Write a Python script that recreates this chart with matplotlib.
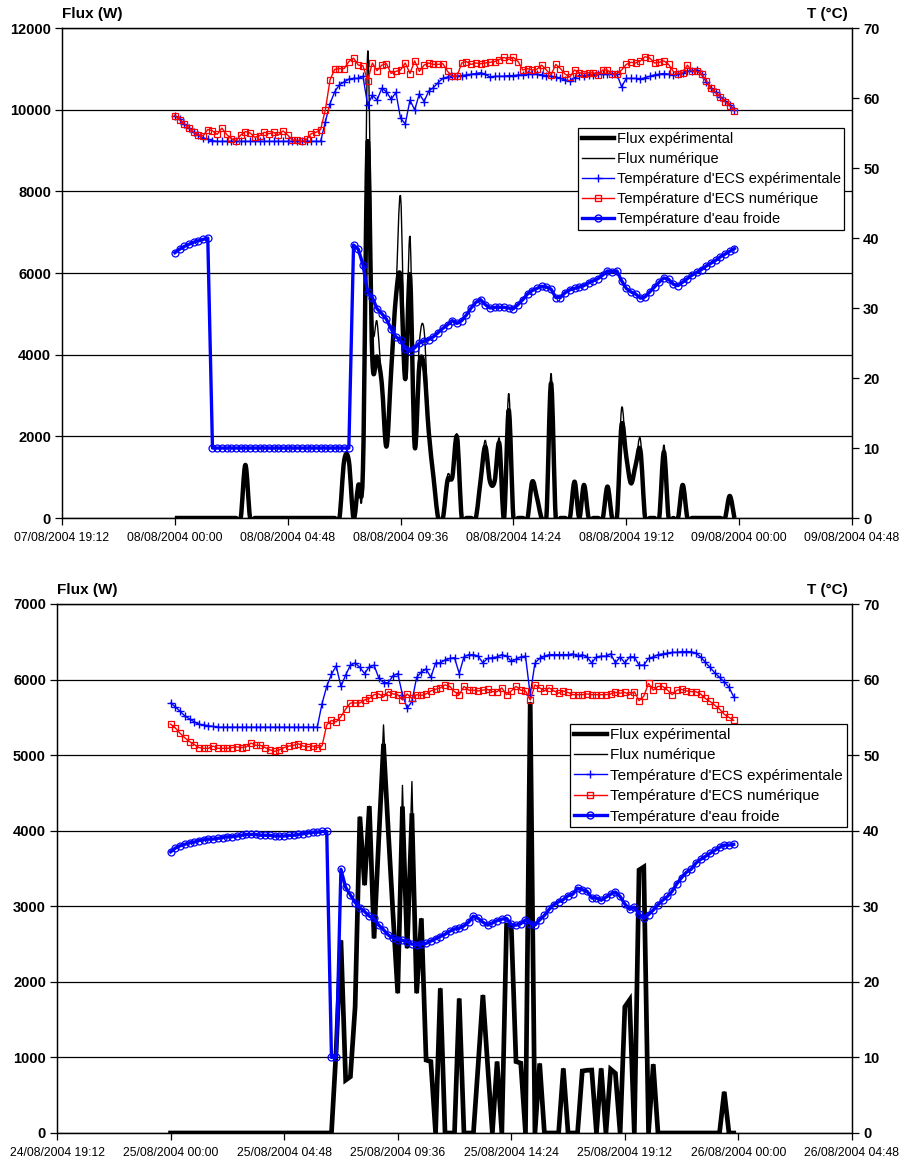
#!/usr/bin/env python3
"""
Flux and hot/cold water temperatures over two days (08/08 and 25/08/2004).
Top panel: smoothed flux curves, bottom panel: straight flux lines.
"""

from datetime import datetime, timedelta

import matplotlib
matplotlib.use("Agg")
import matplotlib.pyplot as plt
import matplotlib.dates as mdates
from matplotlib import font_manager
from matplotlib.lines import Line2D
from matplotlib.path import Path
from matplotlib.patches import PathPatch
import numpy as np

# ---------------------------------------------------------------------------
# Data (one value every 12 minutes, from 00:00 to 23:48)
# ---------------------------------------------------------------------------
STEP_MIN = 12
N_POINTS = 120

# --- 08/08/2004 ---
TOP_FLUX_EXP = [
    0, 0, 0, 0, 0, 0, 0, 0, 0, 0,
    0, 0, 0, 0, 0, 1300, 0, 0, 0, 0,
    0, 0, 0, 0, 0, 0, 0, 0, 0, 0,
    0, 0, 0, 0, 0, 0, 1400, 1400, 0, 800,
    1200, 9200, 3870, 3950, 3300, 1750, 3600, 5400, 5900, 3400,
    5950, 1750, 3750, 3700, 2100, 1000, 0, 0, 930, 1000,
    1990, 0, 0, 0, 0, 900, 1750, 900, 900, 1830,
    0, 2640, 0, 0, 0, 0, 890, 500, 0, 0,
    3300, 0, 0, 0, 0, 890, 0, 810, 0, 0,
    0, 0, 770, 0, 0, 2280, 1500, 850, 1300, 1660,
    0, 0, 0, 0, 1620, 0, 0, 0, 810, 0,
    0, 0, 0, 0, 0, 0, 0, 0, 540, 0,
]
TOP_FLUX_NUM = [
    0, 0, 0, 0, 0, 0, 0, 0, 0, 0,
    0, 0, 0, 0, 0, 1300, 0, 0, 0, 0,
    0, 0, 0, 0, 0, 0, 0, 0, 0, 0,
    0, 0, 0, 0, 0, 0, 1450, 1450, 0, 800,
    1200, 11400, 4900, 4800, 3300, 1750, 3700, 5500, 7870, 3600,
    6890, 1900, 4300, 4600, 2300, 1000, 0, 0, 1050, 1000,
    2050, 0, 0, 0, 0, 900, 1900, 900, 900, 1950,
    0, 3050, 0, 0, 0, 0, 890, 500, 0, 0,
    3540, 0, 0, 0, 0, 890, 0, 810, 0, 0,
    0, 0, 770, 0, 0, 2690, 1500, 850, 1300, 1930,
    0, 0, 0, 0, 1790, 0, 0, 0, 810, 0,
    0, 0, 0, 0, 0, 0, 0, 0, 540, 0,
]
TOP_T_ECS_EXP = [
    57.5, 57.0, 56.3, 55.7, 55.1, 54.7, 54.3, 54.1, 53.9, 53.8,
    53.8, 53.8, 53.8, 53.8, 53.8, 53.8, 53.8, 53.8, 53.8, 53.8,
    53.8, 53.8, 53.8, 53.8, 53.8, 53.8, 53.8, 53.8, 53.8, 53.8,
    53.8, 53.8, 56.6, 59.2, 60.9, 61.9, 62.3, 62.7, 62.8, 62.8,
    63.1, 59.0, 60.4, 59.7, 61.4, 60.9, 59.8, 60.8, 57.1, 56.3,
    59.7, 58.3, 60.6, 59.5, 61.0, 61.5, 62.2, 62.8, 63.0, 63.1,
    63.1, 63.2, 63.3, 63.4, 63.5, 63.6, 63.4, 63.0, 63.1, 63.1,
    63.1, 63.2, 63.2, 63.3, 63.3, 63.4, 63.5, 63.4, 63.3, 63.2,
    63.1, 63.0, 62.8, 62.6, 62.4, 62.9, 63.2, 63.2, 63.3, 63.3,
    63.4, 63.4, 63.5, 63.5, 63.4, 61.6, 62.8, 62.8, 62.8, 62.7,
    62.9, 63.1, 63.3, 63.4, 63.5, 63.4, 63.3, 63.4, 63.6, 63.8,
    63.9, 64.0, 63.4, 62.3, 61.4, 60.8, 60.2, 59.6, 59.0, 58.3,
]
TOP_T_ECS_NUM = [
    57.5, 56.9, 56.3, 55.7, 55.1, 54.7, 54.6, 55.5, 55.3, 54.8,
    55.7, 54.8, 54.2, 53.9, 54.7, 55.2, 55.0, 54.4, 54.6, 55.1,
    54.9, 55.1, 54.7, 55.3, 54.7, 54.0, 54.0, 53.8, 54.1, 54.9,
    55.1, 55.5, 58.3, 62.6, 64.1, 64.2, 64.2, 65.2, 65.7, 64.7,
    64.6, 62.5, 65.0, 63.9, 64.7, 64.9, 63.5, 63.8, 64.0, 65.0,
    63.5, 65.3, 63.8, 64.7, 65.0, 64.8, 64.8, 64.9, 63.8, 63.1,
    63.1, 65.0, 65.2, 64.8, 65.0, 64.9, 65.0, 65.1, 65.2, 65.5,
    65.8, 65.5, 65.8, 65.2, 64.0, 64.2, 64.0, 64.1, 64.7, 64.0,
    63.3, 64.8, 64.2, 63.4, 63.0, 64.0, 63.6, 63.5, 63.6, 63.6,
    63.3, 64.0, 64.0, 63.4, 63.5, 64.0, 64.8, 65.1, 65.0, 65.3,
    65.9, 65.7, 65.0, 65.1, 65.3, 64.8, 63.8, 63.5, 63.6, 64.7,
    63.8, 63.8, 63.5, 62.5, 61.4, 60.8, 60.1, 59.5, 58.9, 58.2,
]
TOP_T_COLD = [
    37.9, 38.4, 38.8, 39.1, 39.4, 39.6, 39.8, 40.0, 10.0, 10.0,
    10.0, 10.0, 10.0, 10.0, 10.0, 10.0, 10.0, 10.0, 10.0, 10.0,
    10.0, 10.0, 10.0, 10.0, 10.0, 10.0, 10.0, 10.0, 10.0, 10.0,
    10.0, 10.0, 10.0, 10.0, 10.0, 10.0, 10.0, 10.0, 39.0, 38.4,
    36.2, 32.3, 31.5, 29.9, 29.2, 28.4, 27.0, 25.9, 25.4, 24.2,
    23.8, 24.3, 25.0, 25.3, 25.5, 25.9, 26.5, 27.1, 27.6, 28.2,
    27.8, 28.2, 29.0, 30.0, 30.8, 31.2, 30.5, 30.0, 30.1, 30.1,
    30.1, 30.0, 29.9, 30.5, 31.2, 32.0, 32.5, 32.8, 33.1, 33.0,
    32.7, 31.5, 31.5, 32.2, 32.6, 32.8, 33.0, 33.2, 33.6, 33.9,
    34.2, 34.7, 35.3, 35.2, 35.3, 33.9, 32.8, 32.3, 32.0, 31.4,
    31.6, 32.3, 33.0, 33.7, 34.3, 34.1, 33.4, 33.2, 33.7, 34.2,
    34.7, 35.1, 35.5, 36.0, 36.4, 36.8, 37.3, 37.7, 38.1, 38.5,
]

# --- 25/08/2004 ---
BOT_FLUX_EXP = [
    0, 0, 0, 0, 0, 0, 0, 0, 0, 0,
    0, 0, 0, 0, 0, 0, 0, 0, 0, 0,
    0, 0, 0, 0, 0, 0, 0, 0, 0, 0,
    0, 0, 0, 0, 0, 1100, 2550, 700, 745, 1670,
    4185, 3280, 4325, 2575, 3900, 5150, 4000, 2900, 1850, 4320,
    2445, 4230, 1850, 2840, 965, 945, 0, 1915, 0, 0,
    0, 1780, 0, 0, 0, 900, 1825, 900, 0, 945,
    0, 2750, 2730, 945, 925, 0, 5700, 0, 920, 0,
    0, 0, 0, 855, 0, 0, 0, 820, 830, 833,
    0, 855, 0, 843, 790, 0, 1670, 1760, 0, 3480,
    3520, 0, 910, 0, 0, 0, 0, 0, 0, 0,
    0, 0, 0, 0, 0, 0, 0, 545, 0, 0,
]
BOT_FLUX_NUM = [
    0, 0, 0, 0, 0, 0, 0, 0, 0, 0,
    0, 0, 0, 0, 0, 0, 0, 0, 0, 0,
    0, 0, 0, 0, 0, 0, 0, 0, 0, 0,
    0, 0, 0, 0, 0, 1100, 2550, 700, 745, 1670,
    4185, 3280, 4325, 2575, 3900, 5400, 4000, 2900, 1850, 4600,
    2445, 4650, 1850, 2840, 965, 945, 0, 1915, 0, 0,
    0, 1780, 0, 0, 0, 900, 1825, 900, 0, 945,
    0, 2750, 2730, 945, 925, 0, 5700, 0, 920, 0,
    0, 0, 0, 855, 0, 0, 0, 820, 830, 833,
    0, 855, 0, 843, 790, 0, 1670, 1760, 0, 3450,
    3500, 0, 910, 0, 0, 0, 0, 0, 0, 0,
    0, 0, 0, 0, 0, 0, 0, 545, 0, 0,
]
BOT_T_ECS_EXP = [
    56.9, 56.4, 55.8, 55.2, 54.8, 54.4, 54.1, 54.0, 53.9, 53.8,
    53.7, 53.7, 53.7, 53.7, 53.7, 53.7, 53.7, 53.7, 53.7, 53.7,
    53.7, 53.7, 53.7, 53.7, 53.7, 53.7, 53.7, 53.7, 53.7, 53.7,
    53.7, 53.7, 56.8, 59.1, 60.7, 61.8, 59.1, 60.6, 61.9, 62.2,
    61.6, 60.8, 61.7, 61.9, 60.2, 59.6, 59.6, 60.5, 60.8, 58.0,
    56.2, 57.1, 60.3, 61.0, 61.4, 60.3, 62.2, 62.2, 62.6, 62.8,
    62.9, 60.8, 63.0, 63.3, 63.3, 63.1, 62.2, 62.8, 62.9, 63.0,
    63.3, 63.1, 62.4, 62.7, 63.0, 63.1, 58.0, 62.2, 62.8, 63.1,
    63.3, 63.3, 63.3, 63.3, 63.3, 63.4, 63.1, 63.3, 63.0, 62.2,
    63.0, 63.1, 63.1, 63.4, 62.2, 63.0, 62.2, 63.0, 63.0, 61.9,
    61.9, 62.8, 63.0, 63.3, 63.4, 63.5, 63.6, 63.6, 63.7, 63.7,
    63.7, 63.5, 63.0, 62.3, 61.6, 60.9, 60.3, 59.7, 59.0, 57.7,
]
BOT_T_ECS_NUM = [
    54.1, 53.6, 52.9, 52.3, 51.8, 51.4, 51.0, 50.9, 50.9, 51.2,
    50.9, 50.9, 50.9, 51.0, 51.1, 51.0, 51.1, 51.6, 51.3, 51.3,
    51.0, 50.7, 50.5, 50.7, 51.0, 51.2, 51.3, 51.5, 51.2, 51.1,
    51.2, 51.0, 51.2, 54.0, 54.6, 54.4, 55.1, 56.1, 56.9, 56.9,
    56.9, 57.3, 57.5, 58.0, 58.1, 57.7, 58.4, 58.1, 58.0, 57.3,
    58.1, 57.5, 58.0, 57.9, 58.1, 58.5, 58.7, 58.9, 59.3, 59.1,
    58.4, 58.0, 59.1, 58.6, 58.6, 58.5, 58.6, 58.7, 58.4, 58.4,
    58.9, 58.0, 58.5, 59.1, 58.6, 58.5, 57.3, 59.3, 58.9, 58.5,
    58.9, 58.5, 58.2, 58.5, 58.3, 58.0, 58.0, 58.0, 58.1, 58.0,
    58.0, 58.0, 58.0, 58.1, 58.3, 58.2, 58.3, 58.0, 58.4, 57.2,
    57.8, 59.5, 58.6, 59.1, 59.1, 58.6, 58.0, 58.6, 58.7, 58.5,
    58.4, 58.4, 58.1, 57.5, 57.1, 56.6, 56.1, 55.4, 55.0, 54.6,
]
BOT_T_COLD = [
    37.2, 37.7, 38.0, 38.2, 38.4, 38.5, 38.7, 38.8, 38.9, 38.9,
    39.0, 39.1, 39.2, 39.2, 39.3, 39.4, 39.5, 39.5, 39.5, 39.4,
    39.4, 39.4, 39.3, 39.3, 39.3, 39.4, 39.4, 39.5, 39.6, 39.7,
    39.8, 39.8, 39.9, 39.9, 10.0, 10.0, 34.9, 32.5, 31.5, 30.5,
    29.8, 29.3, 28.7, 28.4, 27.5, 26.9, 26.2, 25.8, 25.6, 25.5,
    25.3, 25.0, 24.9, 25.0, 25.1, 25.4, 25.7, 26.0, 26.3, 26.7,
    27.0, 27.1, 27.4, 27.9, 28.7, 28.4, 27.9, 27.5, 27.8, 28.1,
    28.3, 28.4, 27.6, 27.5, 27.7, 28.2, 27.7, 27.5, 28.2, 28.8,
    29.6, 30.2, 30.6, 30.9, 31.4, 31.6, 32.4, 32.2, 32.0, 31.1,
    31.1, 30.8, 31.2, 31.6, 31.9, 31.3, 30.3, 29.6, 29.9, 29.0,
    28.4, 28.9, 29.5, 30.2, 30.8, 31.3, 32.0, 33.0, 33.8, 34.5,
    34.9, 35.7, 36.2, 36.6, 37.0, 37.4, 37.8, 38.1, 38.1, 38.2,
]

LEGEND_LABELS = [
    "Flux expérimental",
    "Flux numérique",
    "Température d'ECS expérimentale",
    "Température d'ECS numérique",
    "Température d'eau froide",
]

BLUE = '#0000FF'
RED = '#FF0000'

# fonts: narrow face for the axes if available, normal face for the legend
_names = {f.name for f in font_manager.fontManager.ttflist}
NARROW = 'Liberation Sans Narrow' if 'Liberation Sans Narrow' in _names else 'Liberation Sans'
plt.rcParams['font.family'] = ['Liberation Sans', 'DejaVu Sans']

W, H = 902, 1160


def smooth_path(x, y):
    """Bezier path through the points (same idea as a spreadsheet 'smoothed line')."""
    n = len(x)
    verts = [(x[0], y[0])]
    codes = [Path.MOVETO]
    for i in range(n - 1):
        xa, ya = (x[i - 1], y[i - 1]) if i > 0 else (x[i], y[i])
        xb, yb = (x[i + 2], y[i + 2]) if i + 2 < n else (x[i + 1], y[i + 1])
        c1 = (x[i] + (x[i + 1] - xa) / 6.0, y[i] + (y[i + 1] - ya) / 6.0)
        c2 = (x[i + 1] - (xb - x[i]) / 6.0, y[i + 1] - (yb - y[i]) / 6.0)
        verts += [c1, c2, (x[i + 1], y[i + 1])]
        codes += [Path.CURVE4] * 3
    return Path(verts, codes)


def make_panel(fig, box, day, flux_exp, flux_num, t_exp, t_num, t_cold,
               flux_max, flux_step, smooth, legend_anchor, legend_size):
    """box = (left, top, right, bottom) in pixels."""
    l, t, r, b = box
    ax = fig.add_axes([l / W, 1 - b / H, (r - l) / W, (b - t) / H])
    ax2 = ax.twinx()

    times = [day + timedelta(minutes=STEP_MIN * i) for i in range(N_POINTS)]
    x = mdates.date2num(times)

    # flux (left axis)
    if smooth:
        ax.add_patch(PathPatch(smooth_path(x, np.asarray(flux_exp, float)),
                               fill=False, edgecolor='black', lw=3.2, joinstyle='round'))
        ax.add_patch(PathPatch(smooth_path(x, np.asarray(flux_num, float)),
                               fill=False, edgecolor='black', lw=1.0))
    else:
        ax.plot(x, flux_exp, color='black', lw=3.4, solid_joinstyle='miter')
        ax.plot(x, flux_num, color='black', lw=1.0)

    # temperatures (right axis)
    ax2.plot(x, t_exp, color=BLUE, lw=1.0, marker='+', ms=6, mew=1.0)
    ax2.plot(x, t_num, color=RED, lw=1.0, marker='s', ms=5, mew=0.9,
             mfc='none', mec=RED)
    ax2.plot(x, t_cold, color=BLUE, lw=2.4, marker='o', ms=5, mew=0.9,
             mfc='none', mec=BLUE)

    # x axis: dates every 4.8 h
    ticks = [day + timedelta(hours=4.8 * k) for k in range(-1, 7)]
    ax.set_xlim(mdates.date2num(ticks[0]), mdates.date2num(ticks[-1]))
    ax.set_xticks(mdates.date2num(ticks))
    ax.xaxis.set_major_formatter(mdates.DateFormatter('%d/%m/%Y %H:%M'))
    for lab in ax.get_xticklabels():
        lab.set_fontfamily(NARROW)
        lab.set_fontsize(8.7)

    ax.set_ylim(0, flux_max)
    ax.set_yticks(np.arange(0, flux_max + 1, flux_step))
    ax2.set_ylim(0, 70)
    ax2.set_yticks(np.arange(0, 71, 10))
    for a in (ax, ax2):
        for lab in a.get_yticklabels():
            lab.set_fontfamily(NARROW)
            lab.set_fontweight('bold')
            lab.set_fontsize(10.5)
        for sp in a.spines.values():
            sp.set_color('black')
            sp.set_linewidth(0.9)

    ax.tick_params(axis='x', direction='out', length=5, width=0.9, pad=5)
    ax.tick_params(axis='y', direction='out', length=5, width=0.9, pad=3)
    ax2.tick_params(axis='y', direction='out', length=5, width=0.9, pad=3)

    ax.yaxis.grid(True, color='black', lw=0.9)
    ax.set_axisbelow(True)

    handles = [
        Line2D([], [], color='black', lw=3.2),
        Line2D([], [], color='black', lw=1.0),
        Line2D([], [], color=BLUE, lw=1.0, marker='+', ms=6),
        Line2D([], [], color=RED, lw=1.0, marker='s', ms=5, mfc='none', mec=RED),
        Line2D([], [], color=BLUE, lw=2.4, marker='o', ms=5, mfc='none', mec=BLUE),
    ]
    leg = ax2.legend(handles, LEGEND_LABELS, loc='upper left',
                     bbox_to_anchor=legend_anchor, frameon=True, fancybox=False,
                     framealpha=1, edgecolor='black', borderaxespad=0,
                     fontsize=legend_size, handlelength=2.2, handletextpad=0.2,
                     labelspacing=0.42, borderpad=0.25, numpoints=1)
    leg.get_frame().set_linewidth(0.9)

    # axis titles above the plot area
    fig.text(l / W, 1 - (t - 14) / H, 'Flux (W)', ha='left', va='center',
             fontfamily=NARROW, fontweight='bold', fontsize=11)
    fig.text((r - 4) / W, 1 - (t - 14) / H, 'T (°C)', ha='right', va='center',
             fontfamily=NARROW, fontweight='bold', fontsize=11)
    return ax, ax2


fig = plt.figure(figsize=(W / 100, H / 100), dpi=100)

make_panel(fig, (62, 28, 852, 518), datetime(2004, 8, 8),
           TOP_FLUX_EXP, TOP_FLUX_NUM, TOP_T_ECS_EXP, TOP_T_ECS_NUM, TOP_T_COLD,
           12000, 2000, True, (0.653, 0.796), 10.5)

make_panel(fig, (57, 604, 852, 1133), datetime(2004, 8, 25),
           BOT_FLUX_EXP, BOT_FLUX_NUM, BOT_T_ECS_EXP, BOT_T_ECS_NUM, BOT_T_COLD,
           7000, 1000, False, (0.645, 0.773), 11)

fig.savefig('out.png', dpi=100)
